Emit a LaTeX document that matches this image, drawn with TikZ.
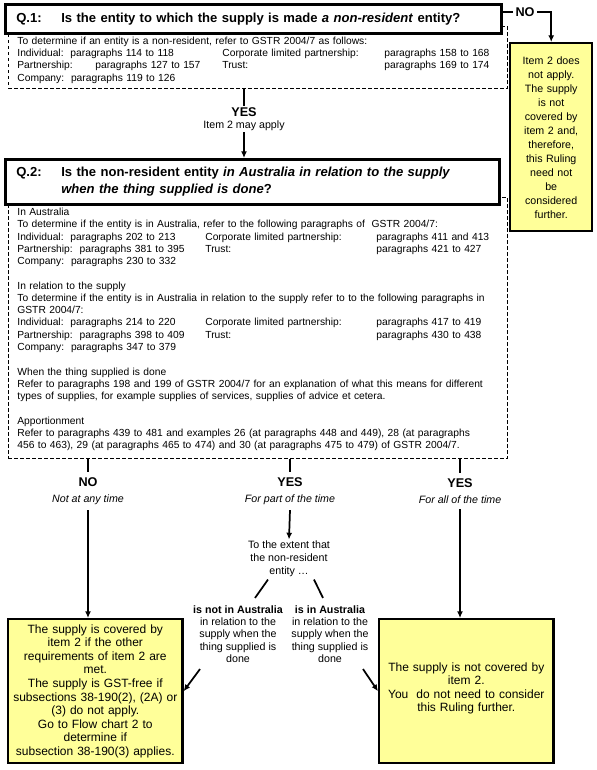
\documentclass[tikz,border=0pt]{standalone}
\usepackage{fontspec}
\setmainfont{Liberation Sans}
\usetikzlibrary{arrows.meta, positioning, calc}
\definecolor{notefill}{RGB}{255,255,153}
\newcommand{\tabcell}[2]{\makebox[#1][l]{#2}}

\begin{document}
\begin{tikzpicture}[x=0.75pt, y=-0.75pt,
  qbox/.style={draw, line width=2pt, fill=white, align=left, anchor=north west, inner xsep=8.25pt, font=\fontsize{9.8}{12.5}\selectfont\bfseries},
  infobox/.style={draw, dash pattern=on 2.5pt off 2pt, line width=0.6pt, align=left, anchor=north west, inner xsep=6.75pt, inner ysep=4pt, text width=360.75pt, font=\fontsize{7.7}{9.2}\selectfont},
  notebox/.style={draw, line width=1.8pt, fill=notefill, align=center, anchor=north west},
  answer/.style={align=center, inner sep=1pt, font=\fontsize{8}{9.2}\selectfont},
  branch/.style={answer, inner ysep=4pt, font=\fontsize{8}{12}\selectfont},
  link/.style={line width=1.3pt},
  linkarrow/.style={link, -{Latex[length=5pt, width=4.5pt]}}
]
  \useasboundingbox (0,0) rectangle (596,770);

  % question 1
  \node[infobox] (info1) at (8,26) {
    \rule{0pt}{9.5pt}To determine if an entity is a non-resident, refer to GSTR 2004/7 as follows:\\
    \tabcell{153.75pt}{Individual:\ \ paragraphs 114 to 118}\tabcell{121.5pt}{Corporate limited partnership:}paragraphs 158 to 168\\
    \tabcell{153.75pt}{Partnership:\hspace{17pt}paragraphs 127 to 157}\tabcell{121.5pt}{Trust:}paragraphs 169 to 174\\
    Company:\ \ paragraphs 119 to 126
  };
  \node[qbox, text width=355.5pt, minimum height=21.75pt] (q1) at (4,3)
    {\tabcell{33.75pt}{Q.1:}Is the entity to which the supply is made \textit{a non-resident} entity?};

  \node[notebox, text width=54pt, minimum width=61.5pt, minimum height=141pt, font=\fontsize{8}{10.5}\selectfont] (na) at (509,42) {
    Item 2 does\\ not apply.\\ The supply\\ is not\\ covered by\\ item 2 and,\\ therefore,\\ this Ruling\\ need not\\ be\\ considered\\ further.
  };
  \node[font=\fontsize{9.5}{11}\selectfont\bfseries, inner sep=2pt] (nolab) at (525,12) {NO};
  \draw[link] (nolab.west -| q1.east) -- (nolab.west);
  \draw[linkarrow] (nolab.east) -| (na.north);

  \node[answer] (yes1) at (244,119) {{\fontsize{9.5}{11}\selectfont\bfseries YES}\\ Item 2 may apply};
  \draw[link] (info1.south -| yes1) -- (yes1.north);
  \draw[linkarrow] (yes1.south) -- (yes1.south |- 0,158);

  % question 2
  \node[infobox] (info2) at (8,197) {
    \rule{0pt}{9.6pt}In Australia\\
    To determine if the entity is in Australia, refer to the following paragraphs of\ \ GSTR 2004/7:\\
    \tabcell{141pt}{Individual:\ \ paragraphs 202 to 213}\tabcell{128.25pt}{Corporate limited partnership:}paragraphs 411 and 413\\
    \tabcell{141pt}{Partnership:\ \ paragraphs 381 to 395}\tabcell{128.25pt}{Trust:}paragraphs 421 to 427\\
    Company:\ \ paragraphs 230 to 332\\[9.2pt]
    In relation to the supply\\
    To determine if the entity is in Australia in relation to the supply refer to to the following paragraphs in\\
    GSTR 2004/7:\\
    \tabcell{141pt}{Individual:\ \ paragraphs 214 to 220}\tabcell{128.25pt}{Corporate limited partnership:}paragraphs 417 to 419\\
    \tabcell{141pt}{Partnership:\ \ paragraphs 398 to 409}\tabcell{128.25pt}{Trust:}paragraphs 430 to 438\\
    Company:\ \ paragraphs 347 to 379\\[9.2pt]
    When the thing supplied is done\\
    Refer to paragraphs 198 and 199 of GSTR 2004/7 for an explanation of what this means for different\\
    types of supplies, for example supplies of services, supplies of advice et cetera.\\[9.2pt]
    Apportionment\\
    Refer to paragraphs 439 to 481 and examples 26 (at paragraphs 448 and 449), 28 (at paragraphs\\
    456 to 463), 29 (at paragraphs 465 to 474) and 30 (at paragraphs 475 to 479) of GSTR 2004/7.\rule[-3.5pt]{0pt}{3.5pt}
  };
  \node[qbox, text width=354pt, minimum height=33.75pt] (q2) at (4,158)
    {\tabcell{33.75pt}{Q.2:}Is the non-resident entity \textit{in Australia in relation to the supply}\\
     \hspace*{33.75pt}\textit{when the thing supplied is done}?};

  % answers
  \node[branch] (b1) at (88,491) {{\fontsize{9.5}{11}\selectfont\bfseries NO}\\ \textit{Not at any time}};
  \node[branch] (b2) at (290,491) {{\fontsize{9.5}{11}\selectfont\bfseries YES}\\ \textit{For part of the time}};
  \node[branch] (b3) at (460,491) {{\fontsize{9.5}{11}\selectfont\bfseries YES}\\ \textit{For all of the time}};

  \node[notebox, text width=124pt, minimum width=130.5pt, minimum height=108pt, font=\fontsize{9}{10.2}\selectfont] (lbox) at (7,618) {
    The supply is covered by\\ item 2 if the other\\ requirements of item 2 are\\ met.\\
    The supply is GST-free if\\ subsections 38-190(2), (2A) or\\ (3) do not apply.\\
    Go to Flow chart 2 to\\ determine if\\ subsection 38-190(3) applies.
  };
  \node[notebox, text width=124pt, minimum width=130.5pt, minimum height=108pt, font=\fontsize{9}{10.2}\selectfont] (rbox) at (378,618) {
    The supply is not covered by\\ item 2.\\ You\ \ do not need to consider\\ this Ruling further.\rule[-6pt]{0pt}{6pt}
  };

  \node[answer, font=\fontsize{8}{9.75}\selectfont] (ext) at (289,559) {To the extent that\\ the non-resident\\ entity \dots};
  \node[answer] (notin) at (238,634)
    {\textbf{is not in Australia}\\ in relation to the\\ supply when the\\ thing supplied is\\ done};
  \node[answer] (isin) at (330,634)
    {\textbf{is in Australia}\\ in relation to the\\ supply when the\\ thing supplied is\\ done};

  \foreach \b in {b1, b2, b3}
    \draw[link] (info2.south -| \b) -- (\b.north);
  \draw[linkarrow] (b1.south) -- (b1.south |- lbox.north);
  \draw[linkarrow] (b3.south) -- (b3.south |- rbox.north);
  \draw[linkarrow] (b2.south) -- (ext.north);

  \draw[link] ($(ext.south)+(-21,1)$) -- ($(notin.north)+(17,-6)$);
  \draw[link] ($(ext.south)+(25,1)$) -- ($(isin.north)+(-7,-6)$);
  \draw[linkarrow] ($(notin.south)+(-38,5)$) -- (lbox.east);
  \draw[linkarrow] ($(isin.south)+(33,5)$) -- (rbox.west);
\end{tikzpicture}
\end{document}
